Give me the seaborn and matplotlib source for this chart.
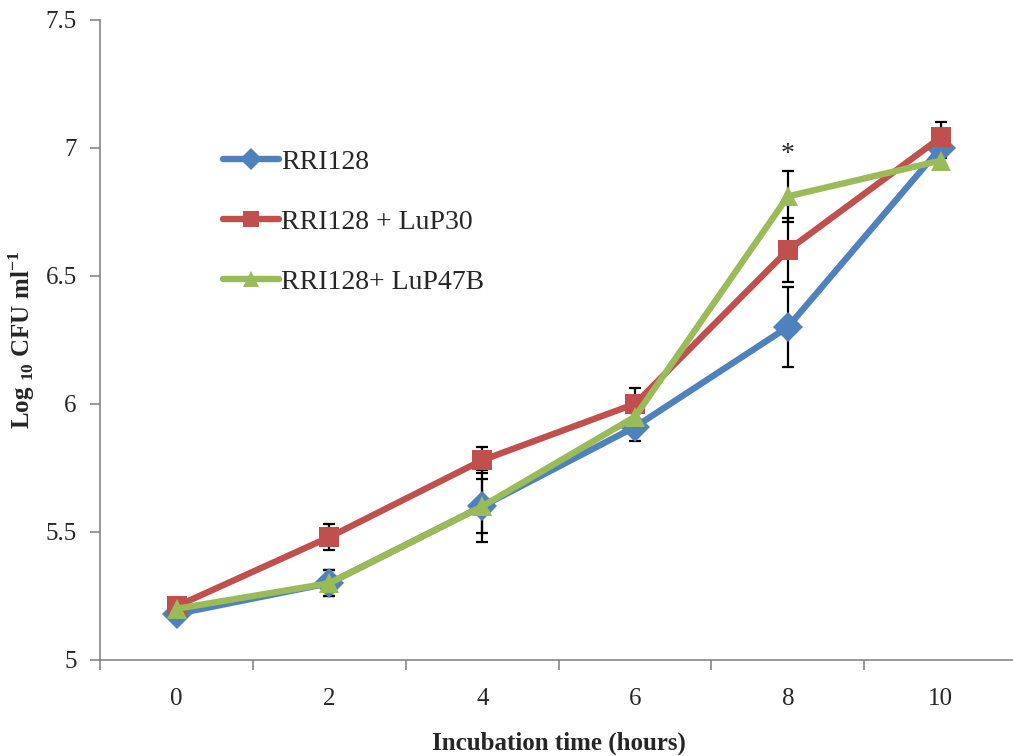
import numpy as np
import pandas as pd
import matplotlib
matplotlib.use("Agg")
import matplotlib.pyplot as plt
from matplotlib.ticker import FixedLocator
import seaborn as sns

# ---- data ----
hours = [0, 2, 4, 6, 8, 10]
strains = ["RRI128", "RRI128 + LuP30", "RRI128+ LuP47B"]
rri128 = [5.18, 5.30, 5.60, 5.91, 6.30, 7.00]
lup30 = [5.21, 5.48, 5.78, 6.00, 6.60, 7.04]
lup47b = [5.20, 5.30, 5.60, 5.95, 6.81, 6.95]
err_rri128 = [0.02, 0.05, 0.14, 0.055, 0.155, 0.04]
err_lup30 = [0.02, 0.05, 0.05, 0.06, 0.125, 0.06]
err_lup47b = [0.02, 0.05, 0.105, 0.03, 0.10, 0.03]
yticks = [5, 5.5, 6, 6.5, 7, 7.5]
ytick_labels = ["5", "5.5", "6", "6.5", "7", "7.5"]
colors = ["#4F81BD", "#C0504D", "#9BBB59"]
markers = ["D", "s", "^"]

means = [rri128, lup30, lup47b]
errs = [err_rri128, err_lup30, err_lup47b]
df = pd.DataFrame({
    "time": np.tile(hours, 3),
    "cfu": np.concatenate(means),
    "strain": np.repeat(strains, len(hours)),
})

sns.set_style("white")
plt.rcParams["font.family"] = ["Liberation Serif", "DejaVu Serif"]
plt.rcParams["mathtext.fontset"] = "custom"
plt.rcParams["mathtext.rm"] = "Liberation Serif"
plt.rcParams["mathtext.bf"] = "Liberation Serif:bold"

fig = plt.figure(figsize=(10.13, 7.56), dpi=100)
ax = fig.add_axes([0.099, 0.127, 0.905, 0.847])

# error bars behind the lines
for m, e in zip(means, errs):
    ax.errorbar(hours, m, yerr=e, fmt="none", ecolor="black",
                elinewidth=1.6, capsize=4.5, capthick=1.6, zorder=1)

sns.lineplot(data=df, x="time", y="cfu", hue="strain", style="strain",
             hue_order=strains, style_order=strains, palette=colors,
             markers=markers, dashes=False, linewidth=4.6, markersize=15,
             markeredgewidth=0, errorbar=None, ax=ax, zorder=3)

ax.text(8, 6.975, "*", ha="center", va="center", fontsize=20)

ax.set_xlim(-1, 11)
ax.set_ylim(5, 7.5)
ax.yaxis.set_major_locator(FixedLocator(yticks))
ax.set_yticklabels(ytick_labels)
ax.xaxis.set_major_locator(FixedLocator(hours))
ax.xaxis.set_minor_locator(FixedLocator([-1, 1, 3, 5, 7, 9, 11]))
ax.tick_params(axis="x", which="major", length=0, pad=20, labelsize=18)
ax.tick_params(axis="x", which="minor", length=7, width=1.2, color="#868686",
               direction="out", bottom=True)
ax.tick_params(axis="y", length=7, width=1.2, color="#868686", direction="out",
               left=True, pad=10, labelsize=18)

for s in ["top", "right"]:
    ax.spines[s].set_visible(False)
for s in ["left", "bottom"]:
    ax.spines[s].set_color("#868686")
    ax.spines[s].set_linewidth(1.2)

ax.set_xlabel("Incubation time (hours)", fontsize=18, fontweight="bold",
              labelpad=16)
ax.set_ylabel(r"Log $_{\mathbf{10}}$ CFU ml$^{\mathbf{-1}}$", fontsize=18,
              fontweight="bold", labelpad=6)

handles, labels = ax.get_legend_handles_labels()
leg = ax.legend(handles, labels, frameon=False, fontsize=20, loc="upper left",
                bbox_to_anchor=(0.122, 0.815), handlelength=2.0,
                handletextpad=0.08, labelspacing=1.25, borderaxespad=0)
for h in leg.legend_handles:
    h.set_markersize(11)

fig.savefig("out.png", dpi=100)
